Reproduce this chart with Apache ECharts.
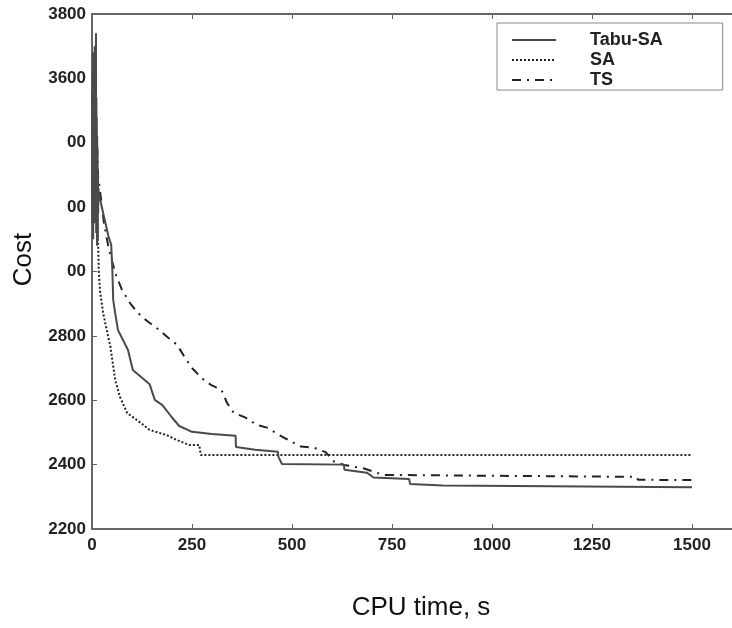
<!DOCTYPE html>
<html>
<head>
<meta charset="utf-8">
<script src="https://cdn.jsdelivr.net/npm/echarts@6/dist/echarts.min.js"></script>
<style>html,body{margin:0;padding:0;background:#fff;}#c{width:732px;height:628px;}</style>
</head>
<body>
<div id="c"></div>
<script>
// Tick labels
var xTicks = [0, 250, 500, 750, 1000, 1250, 1500];
var yTicks = [2200, 2400, 2600, 2800, 3000, 3200, 3400, 3600, 3800];
var yTickText = ['2200', '2400', '2600', '2800', '00', '00', '00', '3600', '3800'];
var seriesNames = ['Tabu-SA', 'SA', 'TS'];

// Tabu-SA (solid)
var tabuTime = [0,0.5,1,1.5,2,2.5,3,3.5,4,4.5,5,5.5,6,6.5,7,7.5,8,8.5,9,9.5,10,10.5,11,11.5,12,12.5,13,13.5,14,14.5,15,15.5,16,
  17,21,30,41,48,51,53,58,65,90,102,125,144,157,176,199,218,250,300,359,360,408,465,466,475,630,631,687,704,793,795,877,878,1500];
var tabuCost = [3300,3550,3150,3620,3250,3680,3100,3600,3380,3650,3200,3560,3420,3700,3150,3600,3300,3620,3250,3660,3740,3120,3540,3350,3480,3080,3420,3220,3380,3100,3300,3180,3260,
  3240,3220,3170,3110,3083,3000,2912,2870,2818,2756,2694,2670,2650,2601,2585,2548,2520,2502,2495,2490,2455,2446,2440,2424,2402,2400,2384,2375,2360,2355,2340,2335,2330,2330];

// SA (dotted)
var saTime = [0,3,12,15,17,20,28,46,58,70,88,112,144,186,211,243,268,272,1500];
var saCost = [3320,3210,3200,3100,3000,2940,2870,2766,2663,2610,2560,2539,2508,2492,2477,2461,2461,2430,2430];

// TS (dash-dot)
var tsTime = [0,3,6,9,12,15,20,30,42,55,58,75,95,115,137,164,189,213,231,250,275,297,324,337,354,384,411,440,465,495,522,556,584,606,630,680,729,1360,1365,1500];
var tsCost = [3550,3400,3500,3350,3420,3300,3250,3150,3070,3010,2996,2943,2902,2871,2847,2822,2796,2772,2735,2700,2668,2648,2632,2593,2561,2546,2524,2514,2494,2474,2456,2452,2439,2409,2399,2388,2368,2362,2353,2352];

function pairs(t, c) { return t.map(function (v, i) { return [v, c[i]]; }); }

var chart = echarts.init(document.getElementById('c'), null, { renderer: 'canvas' });
var font = '"Liberation Sans", Arial, sans-serif';
var axisColor = '#666';
chart.setOption({
  animation: false,
  backgroundColor: '#fff',
  grid: { left: 92, top: 14, width: 649, height: 515, containLabel: false },
  legend: {
    orient: 'vertical', left: 497, top: 23,
    padding: [8, 60, 1, 14], itemGap: 2,
    itemWidth: 44, itemHeight: 14,
    borderColor: '#888', borderWidth: 1,
    data: seriesNames,
    itemStyle: { color: 'rgba(0,0,0,0)', borderWidth: 0, opacity: 0 },
    textStyle: { fontFamily: font, fontWeight: 'bold', fontSize: 18, color: '#222', padding: [0, 0, 0, 29] }
  },
  xAxis: [{
    type: 'value', min: 0, max: 1600, interval: 250, position: 'bottom',
    name: 'CPU time, s', nameLocation: 'middle', nameGap: 66,
    nameTextStyle: { fontFamily: font, fontSize: 26, color: '#111', padding: [0, 0, 0, 18] },
    axisLine: { show: true, lineStyle: { color: axisColor, width: 2 } },
    axisTick: { show: true, inside: true, length: 5, lineStyle: { color: axisColor } },
    axisLabel: { showMaxLabel: false, margin: 8, fontFamily: font, fontWeight: 'bold', fontSize: 17, color: '#222',
      formatter: function (v) { return xTicks.indexOf(v) >= 0 ? String(v) : ''; } },
    splitLine: { show: false }
  }, {
    type: 'value', min: 0, max: 1600, interval: 250, position: 'top',
    axisLine: { show: true, lineStyle: { color: axisColor, width: 2 } },
    axisTick: { show: true, inside: true, length: 5, lineStyle: { color: axisColor } },
    axisLabel: { show: false }, splitLine: { show: false }
  }],
  yAxis: {
    type: 'value', min: 2200, max: 3800, interval: 200,
    name: 'Cost', nameLocation: 'middle', nameGap: 55, nameRotate: 90,
    nameTextStyle: { fontFamily: font, fontSize: 26, color: '#111', padding: [0, 0, 0, 24] },
    axisLine: { show: true, lineStyle: { color: axisColor, width: 2 } },
    axisTick: { show: true, inside: true, length: 5, lineStyle: { color: axisColor } },
    axisLabel: { margin: 6, fontFamily: font, fontWeight: 'bold', fontSize: 17, color: '#222',
      formatter: function (v) { var i = yTicks.indexOf(v); return i >= 0 ? yTickText[i] : ''; } },
    splitLine: { show: false }
  },
  series: [{
    name: seriesNames[0], type: 'line', data: pairs(tabuTime, tabuCost), symbol: 'none',
    lineStyle: { color: '#4a4a4a', width: 2, type: 'solid' }, itemStyle: { color: '#4a4a4a' }, z: 3
  }, {
    name: seriesNames[1], type: 'line', data: pairs(saTime, saCost), symbol: 'none',
    lineStyle: { color: '#222', width: 2, type: [2, 2] }, itemStyle: { color: '#222' }, z: 2
  }, {
    name: seriesNames[2], type: 'line', data: pairs(tsTime, tsCost), symbol: 'none',
    lineStyle: { color: '#222', width: 2, type: [9, 6, 2, 6] }, itemStyle: { color: '#222' }, z: 2
  }]
});
</script>
</body>
</html>
